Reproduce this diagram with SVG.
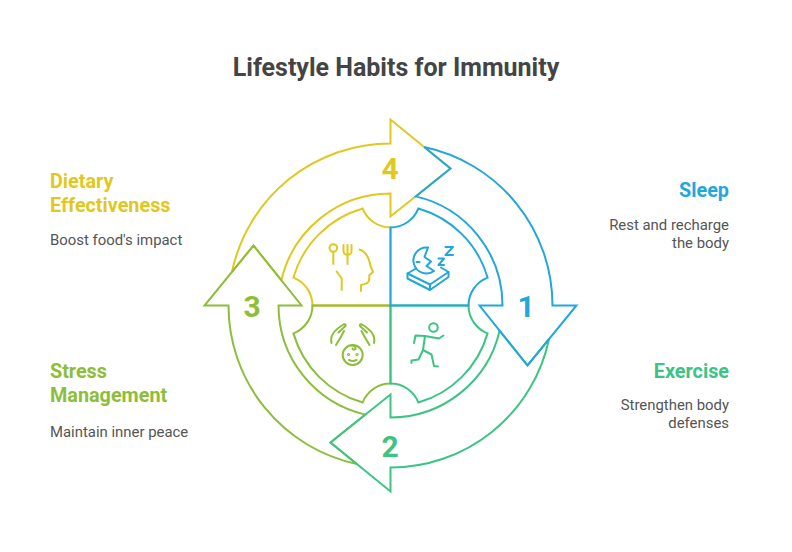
<svg xmlns="http://www.w3.org/2000/svg" width="792" height="552" viewBox="0 0 792 552">
<style>
.seg{fill:none;stroke-width:2;stroke-linejoin:miter}
.ic{fill:none;stroke-width:2;stroke-linecap:round;stroke-linejoin:round}
.blue{stroke:#22A7DB}.green{stroke:#3CC485}.olive{stroke:#8DBE3A}.yellow{stroke:#E0C81E}
.num{font-family:Roboto,"Liberation Sans",sans-serif;font-weight:bold;font-size:30px;text-anchor:middle}
.h{font-family:Roboto,"Liberation Sans",sans-serif;font-weight:bold;font-size:19.8px}
.d{font-family:Roboto,"Liberation Sans",sans-serif;font-size:14.9px;fill:#555555}
</style>
<defs>
<path id="ring" d="M33.7,-158.5 A162,162 0 0 1 162,0 L186,0 L137,60 L89,0 L112,0 A112,112 0 0 0 25.2,-109.1 L60,-137 Z"/>
<path id="piece" d="M0,0 L0,-78 A30,30 0 0 0 27.9,-97.06 A101,101 0 0 1 97.06,-27.9 A30,30 0 0 0 78,0 Z"/>
</defs>
<rect width="792" height="552" fill="#ffffff"/>
<text x="396" y="76" font-family="Roboto,'Liberation Sans',sans-serif" font-weight="bold" font-size="25" fill="#444444" text-anchor="middle">Lifestyle Habits for Immunity</text>
<g id="connectors" transform="translate(390.5,305.5)">
<use href="#ring" class="seg yellow" transform="rotate(270)"/>
<use href="#ring" class="seg olive" transform="rotate(180)"/>
<use href="#ring" class="seg green" transform="rotate(90)"/>
<use href="#ring" class="seg blue"/>
</g>
<g id="inner" transform="translate(390.5,305.5)">
<use href="#piece" class="seg yellow" transform="rotate(270)"/>
<use href="#piece" class="seg olive" transform="rotate(180)"/>
<use href="#piece" class="seg green" transform="rotate(90)"/>
<use href="#piece" class="seg blue"/>
</g>
<g id="node-sleep">
<text class="num" x="526" y="316.5" fill="#22A7DB">1</text>
<text class="h" x="729" y="197" fill="#22A7DB" text-anchor="end">Sleep</text>
<text class="d" x="729" y="230" text-anchor="end">Rest and recharge</text>
<text class="d" x="729" y="248" text-anchor="end">the body</text>
<g class="ic blue">
<path d="M428,247.5 A13,13 0 1 0 434,271 L426.5,266 L431,261.5 L424.5,257 Z"/>
<path d="M416.5,262 H419.5"/>
<path d="M438.5,258.5 H444 L438.5,265 H444"/>
<path d="M445.5,247 H453 L445.5,255 H453"/>
<path d="M416,268.5 L407.5,273.5 L430,284.5 L448.5,272 L441,267.5"/>
<path d="M407.5,273.5 V278.5 L430,290 L448.5,277 V272 M430,284.5 V290"/>
</g>
</g>
<g id="node-exercise">
<text class="num" x="390" y="456.5" fill="#3CC485">2</text>
<text class="h" x="729" y="378" fill="#3CC485" text-anchor="end">Exercise</text>
<text class="d" x="729" y="410" text-anchor="end">Strengthen body</text>
<text class="d" x="729" y="428" text-anchor="end">defenses</text>
<g class="ic green">
<circle cx="433.5" cy="327.5" r="4.3"/>
<path d="M414,343 L415.5,335.5 L425,336 L439,338.5 L443.5,335.5"/>
<path d="M425,336 L423,350 L418.5,359.5 L411.5,360.5 L411.5,363"/>
<path d="M423,350 L431.5,354.5 L434,366 L438,366.5"/>
</g>
</g>
<g id="node-stress">
<text class="num" x="252" y="316.5" fill="#8DBE3A">3</text>
<text class="h" x="50" y="378" fill="#8DBE3A">Stress</text>
<text class="h" x="50" y="402" fill="#8DBE3A">Management</text>
<text class="d" x="50" y="437">Maintain inner peace</text>
<g class="ic olive">
<circle cx="352.7" cy="355" r="10"/>
<circle cx="348.5" cy="354.5" r="0.6"/>
<circle cx="357" cy="354.5" r="0.6"/>
<path d="M349,360 Q352.7,362 356.5,360"/>
<path d="M351,345.5 Q356,345 355.5,349 Q353.5,350.5 352.5,348.5"/>
<path d="M331.5,343 Q329,333 343.5,324.5 Q346,323.5 345.5,326 L338.5,332.5 M336,345 Q341,337 344,331"/>
<path d="M374,343 Q376.5,333 362,324.5 Q359.5,323.5 360,326 L367,332.5 M369.5,345 Q364.5,337 361.5,331"/>
</g>
</g>
<g id="node-dietary">
<text class="num" x="390" y="178.5" fill="#E0C81E">4</text>
<text class="h" x="50" y="188" fill="#E0C81E">Dietary</text>
<text class="h" x="50" y="212" fill="#E0C81E">Effectiveness</text>
<text class="d" x="50" y="245">Boost food's impact</text>
<g class="ic yellow">
<circle cx="333.3" cy="248" r="3.8"/>
<path d="M333.3,252 V264"/>
<path d="M343.5,245 V251 A4,4 0 0 0 351.5,251 V245 M347.5,245 V264"/>
<path d="M359.5,249.5 Q368,252 370.5,266 L373,272 L369.5,275 L369,281 Q368,283.5 361,285 V291"/>
<path d="M336.7,271.5 L341.7,278.5 V290"/>
</g>
</g>
</svg>
